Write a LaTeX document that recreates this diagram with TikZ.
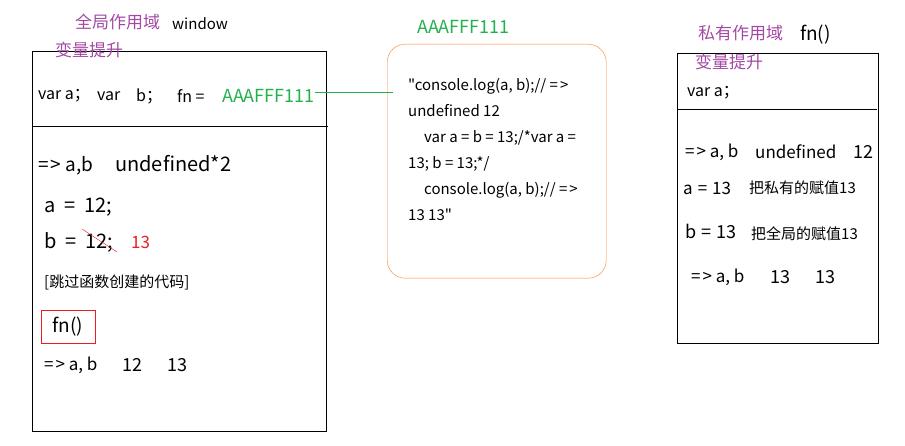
\documentclass[tikz,border=0pt]{standalone}
\usepackage{fontspec}
\newfontfamily\zhfont{Noto Sans CJK SC}
\usepackage{tikz}
\definecolor{zise}{HTML}{A349A4}
\definecolor{lvse}{HTML}{22B14C}
\definecolor{hongse}{HTML}{ED1C24}
\definecolor{chengse}{HTML}{FF7F27}
\newcommand{\jiantou}{=\hspace{2pt}>}
\tikzset{
	biaoti/.style={text=zise, inner sep=0pt, anchor=west, font=\zhfont\fontsize{17}{17}\selectfont},
	zi/.style={inner sep=0pt, anchor=west, font=\zhfont\fontsize{#1}{#1}\selectfont},
	zi/.default=16
}

\begin{document}
\begin{tikzpicture}[x=1pt,y=-1pt]
	\useasboundingbox (0,0) rectangle (905,446);
	% global scope
	\draw (32,51) rectangle (326,431);
	\draw (32,126) -- (328,126);
	\node[biaoti] (quanju) at (75,22) {全局作用域};
	\node[zi=15] (window) at (172,24) {window};
	\node[biaoti] (tisheng) at (55,50) {变量提升};
	\node[zi=16] (vara) at (38,96) {var a；};
	\node[zi=16] (varb) at (97,96) {var};
	\node[zi=16] (bb) at (136,96) {b；};
	\node[zi=16] (fneq) at (177,96) {fn =};
	\node[zi=18,text=lvse] (fnval) at (222,96) {AAAFFF111};
	\node[zi=19] (ab) at (38,166) {\jiantou\ a,b};
	\node[zi=20] (undef) at (115,164) {undefined*2};
	\node[zi=20] (aset) at (44,207) {a\hspace{9pt}=\hspace{9pt}12;};
	\node[zi=20] (bset) at (44,242) {b\hspace{9pt}=\hspace{9pt}12;};
	\draw[hongse] (82,229) -- (117,252);
	\node[zi=17,text=hongse] (bnew) at (131,242) {13};
	\node[zi=15] (tiaoguo) at (44,282) {[跳过函数创建的代码]};
	\node[draw=hongse, minimum width=54pt, minimum height=33pt, inner sep=0pt, font=\zhfont\fontsize{19}{19}\selectfont] (call) at (68,326.5) {fn()\hspace{3pt}};
	\node[zi=17] (ab2) at (44,365) {\jiantou\ a, b};
	\node[zi=18] (a12) at (122,365) {12};
	\node[zi=18] (b13) at (167,365) {13};
	% heap
	\node[zi=18,text=lvse] (heapname) at (417,27) {AAAFFF111};
	\node[draw=chengse, rounded corners=18pt, minimum width=219pt, minimum height=234pt, anchor=north west] (heap) at (387,44) {};
	\node[inner sep=0pt, anchor=north west, align=left, font=\zhfont\fontsize{15}{26}\selectfont] (code) at (408,78) {"console.log(a, b);// \jiantou\\
undefined 12\\
\hspace*{16pt}var a = b = 13;/*var a =\\
13; b = 13;*/\\
\hspace*{16pt}console.log(a, b);// \jiantou\\
13 13"};
	\coordinate (heapin) at ([xshift=6pt,yshift=3.5pt]heap.west |- fnval.east);
	\draw[lvse, line width=1pt] ([yshift=3.5pt]fnval.east) -- (heapin);
	% private scope
	\draw (677,53) rectangle (878,343);
	\draw (677,109) -- (877,109);
	\node[biaoti] (siyou) at (698,33) {私有作用域};
	\node[zi=19] (fnname) at (800,35) {fn()};
	\node[biaoti] (tisheng2) at (695,62) {变量提升};
	\node[zi=16] (vara2) at (687,93) {var a；};
	\node[zi=17] (ab3) at (685,152) {\jiantou\ a, b};
	\node[zi=17] (undef2) at (755,152) {undefined};
	\node[zi=18] (b12) at (853,152) {12};
	\node[zi=17] (aset2) at (683,188) {a\hspace{5pt}=\hspace{5pt}13};
	\node[zi=15] (siyouzhi) at (749,188) {把私有的赋值13};
	\node[zi=18] (bset2) at (685,231) {b\hspace{5pt}=\hspace{5pt}13};
	\node[zi=15] (quanjuzhi) at (751,234) {把全局的赋值13};
	\node[zi=17] (ab4) at (691,277) {\jiantou\ a, b};
	\node[zi=18] (a13) at (770,277) {13};
	\node[zi=18] (b13b) at (815,277) {13};
\end{tikzpicture}
\end{document}
